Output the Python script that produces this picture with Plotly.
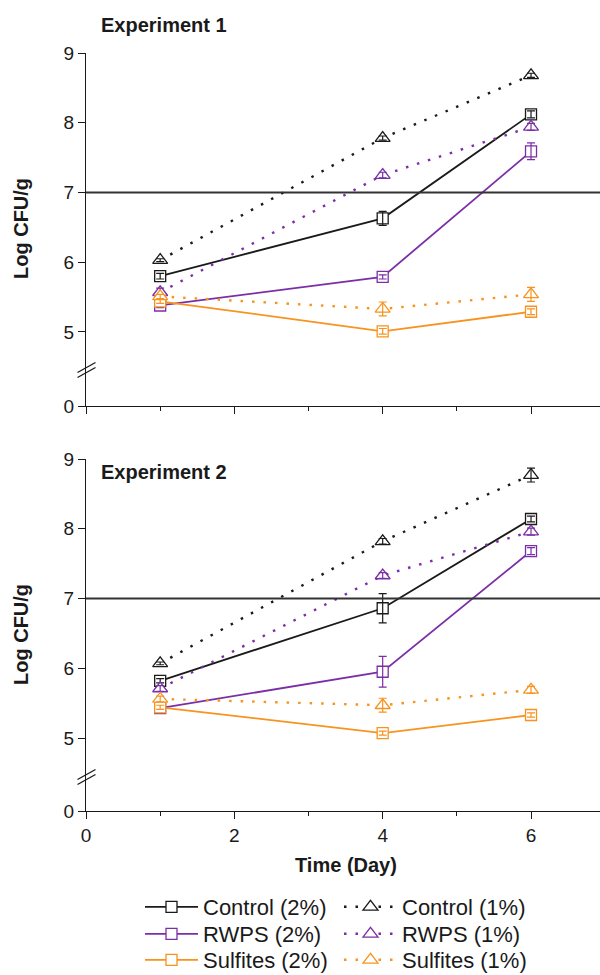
import plotly.graph_objects as go

# ---------------- data ----------------
days = [1, 4, 6]

exp1_control2 = [5.80, 6.63, 8.12]
exp1_control2_err = [0.04, 0.10, 0.05]
exp1_control1 = [6.03, 7.78, 8.68]
exp1_control1_err = [0.02, 0.03, 0.03]
exp1_rwps2 = [5.38, 5.79, 7.59]
exp1_rwps2_err = [0.03, 0.03, 0.12]
exp1_rwps1 = [5.57, 7.25, 7.94]
exp1_rwps1_err = [0.06, 0.04, 0.05]
exp1_sulf2 = [5.44, 5.01, 5.29]
exp1_sulf2_err = [0.03, 0.04, 0.04]
exp1_sulf1 = [5.51, 5.33, 5.54]
exp1_sulf1_err = [0.03, 0.10, 0.10]

exp2_control2 = [5.82, 6.86, 8.14]
exp2_control2_err = [0.03, 0.21, 0.04]
exp2_control1 = [6.07, 7.82, 8.77]
exp2_control1_err = [0.02, 0.04, 0.10]
exp2_rwps2 = [5.43, 5.95, 7.68]
exp2_rwps2_err = [0.03, 0.22, 0.05]
exp2_rwps1 = [5.71, 7.33, 7.96]
exp2_rwps1_err = [0.04, 0.04, 0.05]
exp2_sulf2 = [5.44, 5.07, 5.33]
exp2_sulf2_err = [0.03, 0.03, 0.03]
exp2_sulf1 = [5.56, 5.47, 5.69]
exp2_sulf1_err = [0.04, 0.10, 0.05]

names = ["Control (2%)", "Control (1%)", "RWPS (2%)", "RWPS (1%)", "Sulfites (2%)", "Sulfites (1%)"]
threshold = 7
x_ticks = [0, 2, 4, 6]
x_minor = [1, 3, 5]
y_ticks_upper = [5, 6, 7, 8, 9]
y_ticks_lower = [0]

# ---------------- style ----------------
W, H = 600, 975
BLACK = "#1a1a1a"
PURPLE = "#7b2ea6"
ORANGE = "#f7931e"
FONT = "Liberation Sans, Arial, sans-serif"
DOT = "2.5px,9px"

def py(px):
    return 1 - px / H

def pxx(px):
    return px / W

fig = go.Figure()

# (values exp1, err exp1, values exp2, err exp2, colour, symbol, dash, name, legend id, legend x px, legend y px)
series = [
    (exp1_control2, exp1_control2_err, exp2_control2, exp2_control2_err, BLACK, "square", "solid", names[0], "legend", 140, 907),
    (exp1_control1, exp1_control1_err, exp2_control1, exp2_control1_err, BLACK, "triangle-up", DOT, names[1], "legend2", 339, 907),
    (exp1_rwps2, exp1_rwps2_err, exp2_rwps2, exp2_rwps2_err, PURPLE, "square", "solid", names[2], "legend3", 140, 934),
    (exp1_rwps1, exp1_rwps1_err, exp2_rwps1, exp2_rwps1_err, PURPLE, "triangle-up", DOT, names[3], "legend4", 339, 934),
    (exp1_sulf2, exp1_sulf2_err, exp2_sulf2, exp2_sulf2_err, ORANGE, "square", "solid", names[4], "legend5", 140, 960),
    (exp1_sulf1, exp1_sulf1_err, exp2_sulf1, exp2_sulf1_err, ORANGE, "triangle-up", DOT, names[5], "legend6", 339, 960),
]

legend_layouts = {}
for v1, e1, v2, e2, col, sym, dash, name, leg, lx, ly in series:
    msize = 11 if sym == "square" else 13
    lw = 1.8 if dash == "solid" else 2.4
    for (vals, errs, xa, ya, show) in [(v1, e1, "x", "y", True), (v2, e2, "x2", "y3", False)]:
        fig.add_trace(go.Scatter(
            x=days, y=vals, mode="lines+markers", name=name,
            xaxis=xa, yaxis=ya, legend=leg, showlegend=show,
            line=dict(color=col, width=lw, dash=dash),
            marker=dict(symbol=sym, size=msize, color="white",
                        line=dict(color=col, width=1.3)),
        ))
        fig.add_trace(go.Scatter(
            x=days, y=vals, mode="markers", showlegend=False,
            xaxis=xa, yaxis=ya, hoverinfo="skip",
            marker=dict(size=1, color="rgba(0,0,0,0)"),
            error_y=dict(type="data", array=errs, visible=True,
                         color=col, thickness=1.2, width=4),
        ))
    legend_layouts[leg] = dict(x=pxx(lx), y=py(ly), xanchor="left", yanchor="middle",
                               font=dict(family=FONT, size=22, color=BLACK),
                               bgcolor="rgba(0,0,0,0)", itemwidth=53)

# empty traces so the lower (broken) axis segments exist as subplots
for xa, ya in [("x", "y2"), ("x2", "y4")]:
    fig.add_trace(go.Scatter(x=[None], y=[None], xaxis=xa, yaxis=ya, mode="markers",
                             showlegend=False, hoverinfo="skip"))

axis_common = dict(showline=True, linecolor=BLACK, linewidth=1.3,
                   ticks="outside", ticklen=7, tickwidth=1.3, tickcolor=BLACK,
                   showgrid=False, zeroline=False, automargin=False,
                   tickfont=dict(family=FONT, size=19, color=BLACK))

xdom = [pxx(86), 1]
xrange_ = [0, 6.93]
xminor = dict(tickvals=x_minor, ticks="outside", ticklen=4, tickwidth=1.3, tickcolor=BLACK, showgrid=False)

fig.update_layout(
    template="none",
    width=W, height=H,
    margin=dict(l=0, r=0, t=0, b=0, pad=0, autoexpand=False),
    plot_bgcolor="white", paper_bgcolor="white",
    font=dict(family=FONT, color=BLACK),
    xaxis=dict(domain=xdom, range=xrange_, anchor="y2", tickvals=x_ticks,
               showticklabels=False, minor=xminor, **axis_common),
    yaxis=dict(domain=[py(370), py(53)], range=[4.455, 9], anchor="x",
               tickvals=y_ticks_upper, **axis_common),
    yaxis2=dict(domain=[py(406), py(370)], range=[0, 0.516], anchor="x",
                tickvals=y_ticks_lower, **axis_common),
    xaxis2=dict(domain=xdom, range=xrange_, anchor="y4", tickvals=x_ticks,
                minor=xminor, **axis_common),
    yaxis3=dict(domain=[py(777), py(459)], range=[4.441, 9], anchor="x2",
                tickvals=y_ticks_upper, **axis_common),
    yaxis4=dict(domain=[py(811), py(777)], range=[0, 0.4875], anchor="x2",
                tickvals=y_ticks_lower, **axis_common),
    **legend_layouts,
)

# threshold lines
for ya in ["y", "y3"]:
    fig.add_shape(type="line", xref="x domain" if ya == "y" else "x2 domain", x0=0, x1=1,
                  yref=ya, y0=threshold, y1=threshold,
                  line=dict(color="#333333", width=1.8))

# axis break marks
for cy in [370, 777]:
    for off in [-2.5, 2.5]:
        fig.add_shape(type="line", xref="paper", yref="paper",
                      x0=pxx(77.5), y0=py(cy + off + 5), x1=pxx(95.5), y1=py(cy + off - 5),
                      line=dict(color=BLACK, width=1.3))

# titles
fig.add_annotation(text="<b>Experiment 1</b>", xref="paper", yref="paper",
                   x=pxx(99), y=py(25), xanchor="left", yanchor="middle", showarrow=False,
                   font=dict(family=FONT, size=20, color=BLACK))
fig.add_annotation(text="<b>Experiment 2</b>", xref="paper", yref="paper",
                   x=pxx(99), y=py(472), xanchor="left", yanchor="middle", showarrow=False,
                   font=dict(family=FONT, size=20, color=BLACK))
for cy in [229, 635]:
    fig.add_annotation(text="<b>Log CFU/g</b>", xref="paper", yref="paper",
                       x=pxx(21), y=py(cy), xanchor="center", yanchor="middle", showarrow=False,
                       textangle=-90, font=dict(family=FONT, size=20, color=BLACK))
fig.add_annotation(text="<b>Time (Day)</b>", xref="paper", yref="paper",
                   x=pxx(346), y=py(865), xanchor="center", yanchor="middle", showarrow=False,
                   font=dict(family=FONT, size=20, color=BLACK))

fig.write_html("out.html", config={"displayModeBar": False},
               post_script="document.body.style.margin='0';")
